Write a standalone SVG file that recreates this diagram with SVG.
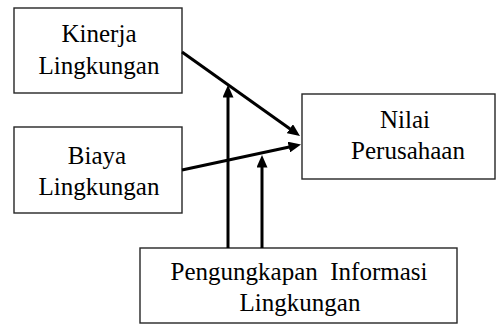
<svg xmlns="http://www.w3.org/2000/svg" width="496" height="324" viewBox="0 0 496 324">
<defs>
<marker id="ah" markerWidth="13" markerHeight="11" refX="0.5" refY="5.5" orient="auto" markerUnits="userSpaceOnUse">
<path d="M0,0 L12.5,5.5 L0,11 z" fill="#000"/>
</marker>
</defs>
<rect width="496" height="324" fill="#fff"/>
<g id="kinerja">
<rect x="14" y="8" width="168" height="85" fill="#fff" stroke="#262626" stroke-width="1.4"/>
<text x="99" y="42" font-size="25" font-family="Liberation Serif" text-anchor="middle">Kinerja</text>
<text x="99" y="73.5" font-size="25" font-family="Liberation Serif" text-anchor="middle">Lingkungan</text>
</g>
<g id="biaya">
<rect x="14" y="127" width="168" height="86" fill="#fff" stroke="#262626" stroke-width="1.4"/>
<text x="97" y="163.5" font-size="25" font-family="Liberation Serif" text-anchor="middle">Biaya</text>
<text x="99" y="194.5" font-size="25" font-family="Liberation Serif" text-anchor="middle">Lingkungan</text>
</g>
<g id="nilai">
<rect x="302" y="94" width="193" height="85" fill="#fff" stroke="#262626" stroke-width="1.4"/>
<text x="405" y="127.5" font-size="25" font-family="Liberation Serif" text-anchor="middle">Nilai</text>
<text x="408" y="158.5" font-size="25" font-family="Liberation Serif" text-anchor="middle">Perusahaan</text>
</g>
<g id="pengungkapan">
<rect x="140" y="248" width="317" height="75" fill="#fff" stroke="#262626" stroke-width="1.4"/>
<text x="299" y="279.5" font-size="25" font-family="Liberation Serif" text-anchor="middle" xml:space="preserve">Pengungkapan  Informasi</text>
<text x="300" y="311" font-size="25" font-family="Liberation Serif" text-anchor="middle">Lingkungan</text>
</g>
<g id="connectors" stroke="#000" stroke-width="3" fill="none">
<path d="M182,52 L290.2,129" marker-end="url(#ah)"/>
<path d="M182,170 L289.3,147" marker-end="url(#ah)"/>
<path d="M228,248 L228,97" marker-end="url(#ah)"/>
<path d="M262,248 L262,167" marker-end="url(#ah)"/>
</g>
</svg>
